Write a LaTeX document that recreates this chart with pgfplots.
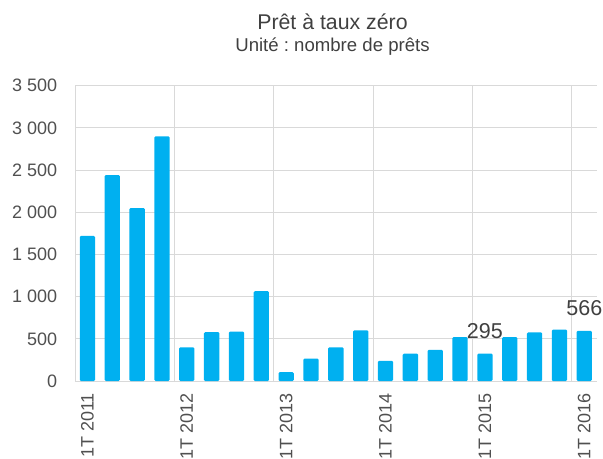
\documentclass[border=0pt]{standalone}
\usepackage{fontspec}
\setmainfont{Liberation Sans}
\usepackage{pgfplots}
\pgfplotsset{compat=1.18}
\definecolor{barblue}{HTML}{00B0F0}
\definecolor{gridgrey}{HTML}{D9D9D9}
\definecolor{txt}{HTML}{404040}
\definecolor{ticktxt}{HTML}{505050}
\frenchspacing
\begin{document}
\begin{tikzpicture}
\useasboundingbox (0,0) rectangle (603bp,459bp);
\node[anchor=base, font=\fontsize{21.3bp}{24bp}\selectfont, text=txt, inner sep=0pt] at (332.5bp,429bp) {Prêt à taux zéro};
\node[anchor=base, font=\fontsize{18.6bp}{22bp}\selectfont, text=txt, inner sep=0pt] at (332.5bp,407.3bp) {Unité : nombre de prêts};
\begin{axis}[
  at={(75bp,78bp)}, anchor=south west,
  width=521.7bp, height=295.3bp, scale only axis,
  xmin=-0.5, xmax=20.5, ymin=0, ymax=3500,
  clip=false,
  axis x line*=bottom, axis y line*=left,
  axis line style={draw=gridgrey, line width=1bp},
  major tick length=0pt, minor tick length=0pt,
  ytick={0,500,...,3500},
  ymajorgrids,
  major grid style={draw=gridgrey, line width=1bp},
  xtick={0,4,8,12,16,20},
  xticklabels={1T 2011,1T 2012,1T 2013,1T 2014,1T 2015,1T 2016},
  minor xtick={3.5,7.5,11.5,15.5,19.5},
  xminorgrids,
  minor grid style={draw=gridgrey, line width=1bp},
  yticklabel style={font=\fontsize{18bp}{20bp}\selectfont, text=ticktxt, inner sep=0pt, anchor=east},
  yticklabel shift=17.7bp,
  xticklabel style={font=\fontsize{18bp}{20bp}\selectfont, text=ticktxt, inner sep=0pt, rotate=90, anchor=east},
  xticklabel shift=12bp,
  /pgf/number format/1000 sep={\ },
  /pgf/number format/assume math mode=true,
]
\addplot[ybar, bar width=15.3bp, fill=barblue, draw=none, rounded corners=1.2bp] coordinates {
  (0,1720) (1,2440) (2,2050) (3,2900)
  (4,400) (5,580) (6,585) (7,1065)
  (8,105) (9,265) (10,400) (11,600)
  (12,240) (13,325) (14,370) (15,520)
  (16,325) (17,520) (18,575) (19,610)
  (20,595)
};
\addplot[draw=none, nodes near coords, point meta=explicit symbolic,
  nodes near coords style={font=\fontsize{21.5bp}{24bp}\selectfont, text=txt, inner sep=0pt, anchor=south, yshift=14.5bp}]
  coordinates {(16,325)[295] (20,595)[566]};
\end{axis}
\end{tikzpicture}
\end{document}
